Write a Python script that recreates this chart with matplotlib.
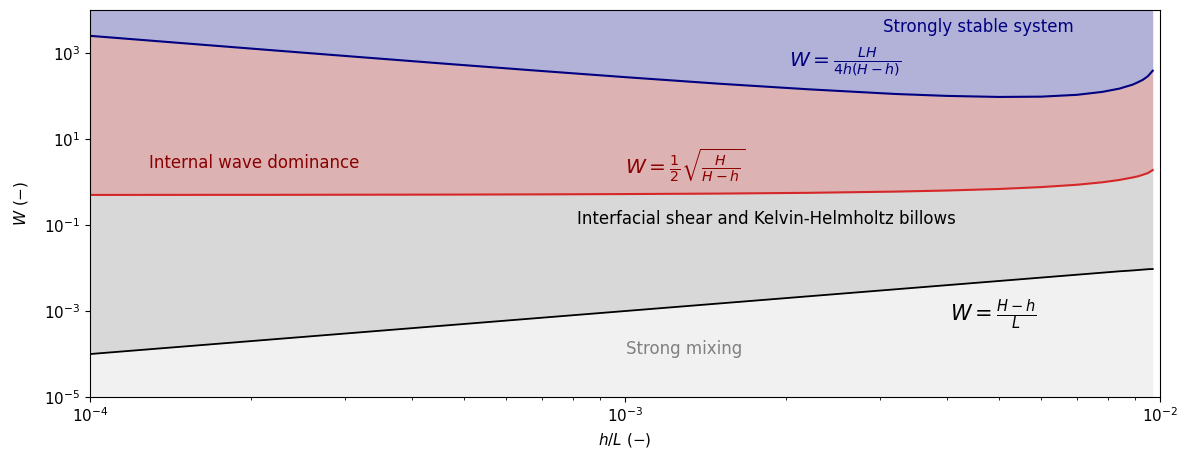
import matplotlib
matplotlib.use("Agg")
import matplotlib.pyplot as plt

plt.rcParams['font.size'] = 11

# h/L values
h_over_L = [1.0e-4, 1.5e-4, 2.2e-4, 3.2e-4, 4.6e-4, 6.8e-4, 1.0e-3, 1.5e-3,
            2.2e-3, 3.2e-3, 4.0e-3, 5.0e-3, 6.0e-3, 7.0e-3, 7.8e-3, 8.4e-3,
            8.9e-3, 9.1e-3, 9.3e-3, 9.5e-3, 9.7e-3]

# upper boundary: W = LH / (4h(H-h))
w_stable = [2520, 1690, 1160, 806, 568, 393, 276, 194,
            144, 112, 101, 95.5, 97, 107, 125, 149,
            185, 210, 240, 290, 390]

# middle boundary: W = 1/2 sqrt(H/(H-h))
w_wave = [0.502, 0.504, 0.505, 0.508, 0.511, 0.517, 0.526, 0.54,
          0.562, 0.60, 0.636, 0.69, 0.764, 0.866, 0.986, 1.12,
          1.28, 1.36, 1.48, 1.62, 1.9]

# lower boundary: W = (H-h)/L
w_mixing = [1.0e-4, 1.5e-4, 2.2e-4, 3.2e-4, 4.6e-4, 6.8e-4, 1.0e-3, 1.5e-3,
            2.2e-3, 3.2e-3, 4.0e-3, 5.0e-3, 6.0e-3, 7.0e-3, 7.8e-3, 8.4e-3,
            8.8e-3, 9.0e-3, 9.2e-3, 9.4e-3, 9.5e-3]

y_min, y_max = 1e-5, 1e4

fig, ax = plt.subplots(figsize=(11.92, 4.59), dpi=100)
fig.subplots_adjust(left=0.0755, right=0.973, top=0.978, bottom=0.135)

# shaded regimes
ax.fill_between(h_over_L, w_stable, y_max, color='navy', alpha=0.3, linewidth=0)
ax.fill_between(h_over_L, w_wave, w_stable, color='darkred', alpha=0.3, linewidth=0)
ax.fill_between(h_over_L, w_mixing, w_wave, color='gray', alpha=0.3, linewidth=0)
ax.fill_between(h_over_L, y_min, w_mixing, color='lightgray', alpha=0.3, linewidth=0)

# regime boundaries
ax.plot(h_over_L, w_stable, color='navy', lw=1.5)
ax.plot(h_over_L, w_wave, color='tab:red', lw=1.5)
ax.plot(h_over_L, w_mixing, color='black', lw=1.3)

ax.set_xscale('log')
ax.set_yscale('log')
ax.set_xlim(1e-4, 1e-2)
ax.set_ylim(y_min, y_max)

# labels for each regime
ax.text(4.57e-3, 10**3.6, 'Strongly stable system', color='navy',
        fontsize=12, ha='center', va='center')
ax.text(2.03e-3, 620, r'$W = \frac{LH}{4h(H-h)}$', color='navy',
        fontsize=14.5, ha='left', va='center')
ax.text(1.29e-4, 2.75, 'Internal wave dominance', color='darkred',
        fontsize=12, ha='left', va='center')
ax.text(1.0e-3, 2.4, r'$W = \frac{1}{2}\sqrt{\frac{H}{H-h}}$', color='darkred',
        fontsize=14.5, ha='left', va='center')
ax.text(1.84e-3, 0.138, 'Interfacial shear and Kelvin-Helmholtz billows',
        color='black', fontsize=12, ha='center', va='center')
ax.text(4.05e-3, 8.0e-4, r'$W = \frac{H-h}{L}$', color='black',
        fontsize=15, ha='left', va='center')
ax.text(1.29e-3, 1.3e-4, 'Strong mixing', color='gray',
        fontsize=12, ha='center', va='center')

ax.set_xlabel(r'$h/L\ (-)$')
ax.set_ylabel(r'$W\ (-)$', labelpad=10)

fig.savefig('out.png', dpi=100)
